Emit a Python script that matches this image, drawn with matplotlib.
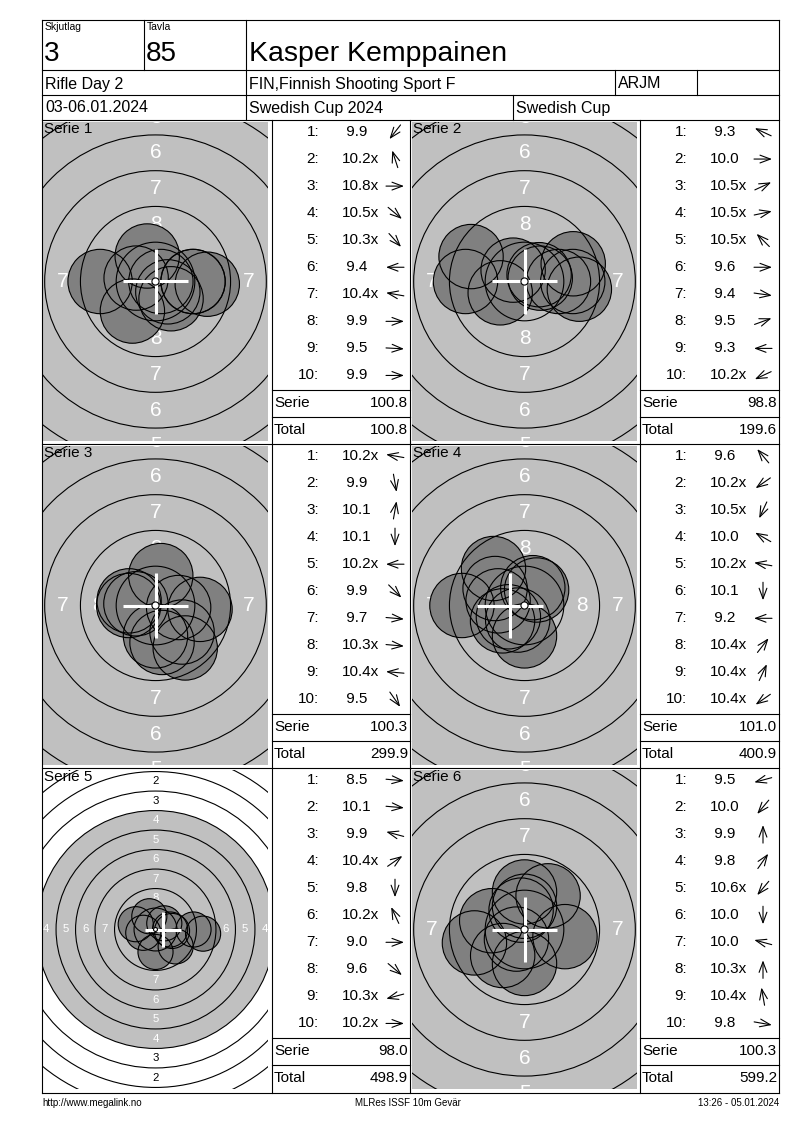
import matplotlib
matplotlib.use('Agg')
import matplotlib.pyplot as plt
from matplotlib.patches import Circle
import numpy as np

plt.rcParams['font.family'] = ['Liberation Sans', 'DejaVu Sans']

# header fields
skjutlag = '3'
tavla = '85'
skytt = 'Kasper Kemppainen'
klass = 'Rifle Day 2'
klubb = 'FIN,Finnish Shooting Sport F'
kod = 'ARJM'
datum = '03-06.01.2024'
tavling = 'Swedish Cup 2024'
tavling_kort = 'Swedish Cup'
footer_l = 'http://www.megalink.no'
footer_c = 'MLRes ISSF 10m Gevär'
footer_r = '13:26 - 05.01.2024'

# shots per series as printed, and direction of each shot (deg, 0 = right, 90 = up)
serie1 = ['9.9', '10.2x', '10.8x', '10.5x', '10.3x', '9.4', '10.4x', '9.9', '9.5', '9.9']
dir1 = [232, 108, 0, 320, 312, 180, 170, 0, -3, 0]
serie2 = ['9.3', '10.0', '10.5x', '10.5x', '10.5x', '9.6', '9.4', '9.5', '9.3', '10.2x']
dir2 = [155, 0, 25, 12, 135, 0, -8, 20, 180, 205]
serie3 = ['10.2x', '9.9', '10.1', '10.1', '10.2x', '9.9', '9.7', '10.3x', '10.4x', '9.5']
dir3 = [170, 280, 80, 270, 180, 315, -5, -5, 175, 305]
serie4 = ['9.6', '10.2x', '10.5x', '10.0', '10.2x', '10.1', '9.2', '10.4x', '10.4x', '10.4x']
dir4 = [130, 215, 245, 150, 170, 270, 180, 52, 65, 215]
serie5 = ['8.5', '10.1', '9.9', '10.4x', '9.8', '10.2x', '9.0', '9.6', '10.3x', '10.2x']
dir5 = [-5, -5, 165, 35, 270, 115, 0, 320, 195, 0]
serie6 = ['9.5', '10.0', '9.9', '9.8', '10.6x', '10.0', '10.0', '10.3x', '10.4x', '9.8']
dir6 = [195, 230, 90, 55, 230, 270, 165, 90, 100, -10]

series = [serie1, serie2, serie3, serie4, serie5, serie6]
dirs = [dir1, dir2, dir3, dir4, dir5, dir6]
# px per mm on the target views (serie 5 is zoomed out)
px_mm = [14.3, 14.3, 14.3, 14.3, 7.8, 14.3]

W, H = 800, 1130
fig = plt.figure(figsize=(W / 100, H / 100), dpi=100)

LW = 0.8
PELLET = 2.25


def ring_r(n):
    return 0.25 + (10 - n) * 2.5


def draw_target(k, x0, y0, w, h):
    ax = fig.add_axes([x0 / W, 1 - (y0 + h) / H, w / W, h / H])
    s = px_mm[k]
    hw, hh = w / 2 / s, h / 2 / s
    ax.set_xlim(-hw, hw)
    ax.set_ylim(-hh, hh)
    ax.axis('off')
    ax.add_patch(Circle((0, 0), ring_r(4), fc='#c0c0c0', ec='none', zorder=1))
    fs = 15 * s / 14.3
    for n in range(1, 9):
        m = (10 - n) * 2.5 - 1.0
        col = 'white' if n >= 4 else 'black'
        for px, py in [(0, m), (0, -m), (m, 0), (-m, 0)]:
            ax.text(px, py, str(n), color=col, fontsize=fs, ha='center',
                    va='center', zorder=2, clip_on=True)
    scores = [float(v.rstrip('x')) for v in series[k]]
    d = (10.9 - np.array(scores)) * 2.5 + 0.125
    a = np.radians(dirs[k])
    xs, ys = d * np.cos(a), d * np.sin(a)
    for x, y in zip(xs, ys):
        ax.add_patch(Circle((x, y), PELLET, fc='#808080', ec='none', zorder=3))
    for x, y in zip(xs, ys):
        ax.add_patch(Circle((x, y), PELLET, fill=False, ec='black', lw=LW, zorder=4))
    for n in range(1, 10):
        ax.add_patch(Circle((0, 0), ring_r(n), fill=False, ec='black', lw=LW, zorder=5))
    # correction cross: mean point of impact in whole mm
    mx, my = np.trunc(xs.mean()), np.trunc(ys.mean())
    ax.plot([mx - 2.3, mx + 2.3], [my, my], color='white', lw=2.2, zorder=6,
            solid_capstyle='butt')
    ax.plot([mx, mx], [my - 2.3, my + 2.3], color='white', lw=2.2, zorder=6,
            solid_capstyle='butt')
    ax.add_patch(Circle((0, 0), ring_r(10), fc='white', ec='black', lw=LW, zorder=7))


# targets
for i in range(3):
    for j in range(2):
        k = 2 * i + j
        draw_target(k, 43 + 369 * j, 122 + 324 * i, 225, 319)

# overlay with lines and text in pixel coords
ov = fig.add_axes([0, 0, 1, 1], zorder=10)
ov.set_xlim(0, W)
ov.set_ylim(H, 0)
ov.axis('off')


def hline(y, x1, x2):
    ov.plot([x1, x2], [y, y], color='black', lw=LW)


def vline(x, y1, y2):
    ov.plot([x, x], [y1, y2], color='black', lw=LW)


L, R, T, B = 42, 779, 20, 1093
hline(T, L, R)
hline(70, L, R)
hline(95, L, R)
hline(120, L, R)
hline(B, L, R)
vline(L, T, B)
vline(R, T, B)
vline(144, T, 70)
vline(246, T, 120)
vline(615, 70, 95)
vline(697, 70, 95)
vline(513, 95, 120)
for x in [272, 410, 640]:
    vline(x, 120, B)
hline(444, L, R)
hline(768, L, R)

ov.text(45, 27, 'Skjutlag', fontsize=7.5, va='center')
ov.text(147, 27, 'Tavla', fontsize=7.5, va='center')
ov.text(44, 54, skjutlag, fontsize=20, va='center')
ov.text(146, 54, tavla, fontsize=20, va='center')
ov.text(249, 54, skytt, fontsize=20.5, va='center')
ov.text(45, 84, klass, fontsize=11.5, va='center')
ov.text(249, 84, klubb, fontsize=11.5, va='center')
ov.text(618, 84, kod, fontsize=11.5, va='center')
ov.text(45, 108, datum, fontsize=11.5, va='center')
ov.text(249, 108, tavling, fontsize=11.5, va='center')
ov.text(516, 108, tavling_kort, fontsize=11.5, va='center')

ov.text(L, 1103, footer_l, fontsize=7, va='center')
ov.text(408, 1103, footer_c, fontsize=7, va='center', ha='center')
ov.text(R, 1103, footer_r, fontsize=7, va='center', ha='right')

total = 0.0
for k in range(6):
    i, j = divmod(k, 2)
    tx = 272 + 368 * j
    ry = 120 + 324 * i
    right = 410 if j == 0 else R
    ov.text(44 + 369 * j, ry + 9, f'Serie {k + 1}', fontsize=11, va='center')
    scores = [float(v.rstrip('x')) for v in series[k]]
    for n, (v, sc, ang) in enumerate(zip(series[k], scores, dirs[k])):
        y = ry + 12 + 27.05 * n
        ov.text(tx + 47, y, f'{n + 1}:', fontsize=11, ha='right', va='center')
        ov.text(tx + 70, y, (' ' if sc < 10 else '') + v, fontsize=11, va='center')
        cx = tx + 123
        dx, dy = 9 * np.cos(np.radians(ang)), 9 * np.sin(np.radians(ang))
        ov.annotate('', xy=(cx + dx, y - dy), xytext=(cx - dx, y + dy),
                    arrowprops=dict(arrowstyle='->,head_length=0.75,head_width=0.28',
                                    lw=0.8, color='black', shrinkA=0, shrinkB=0))
    st = sum(scores)
    total += st
    hline(ry + 270, tx, right)
    hline(ry + 297, tx, right)
    ov.text(tx + 2, ry + 283, 'Serie', fontsize=11, va='center')
    ov.text(right - 2, ry + 283, f'{st:.1f}', fontsize=11, va='center', ha='right')
    ov.text(tx + 2, ry + 310, 'Total', fontsize=11, va='center')
    ov.text(right - 2, ry + 310, f'{total:.1f}', fontsize=11, va='center', ha='right')

fig.savefig('out.png', dpi=100)
